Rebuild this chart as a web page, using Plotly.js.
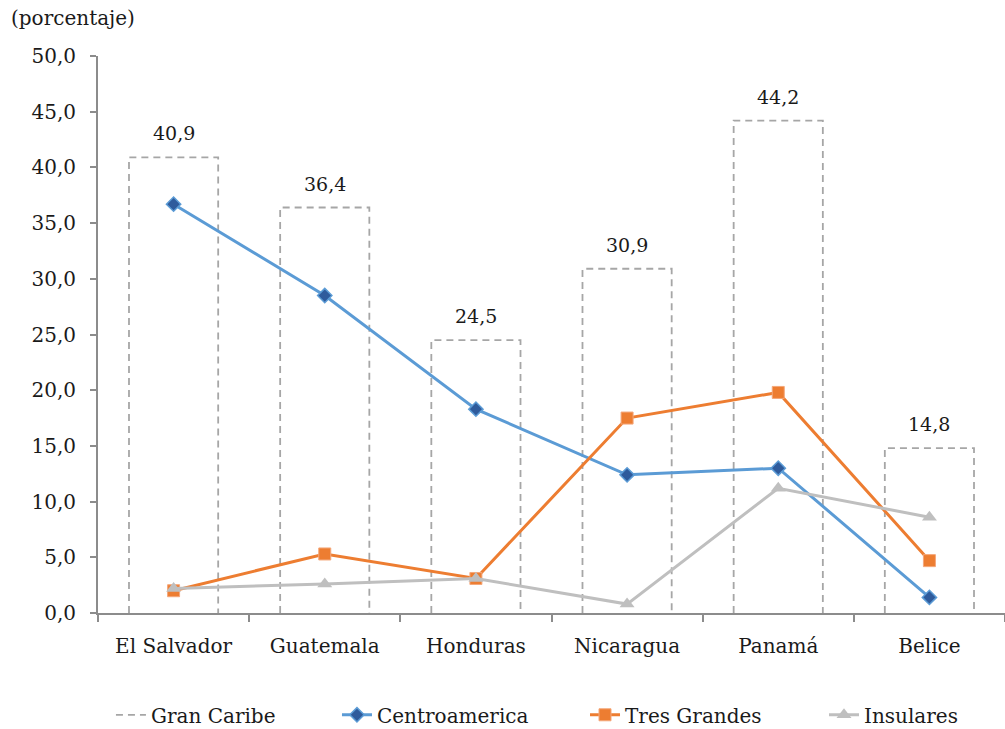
<!DOCTYPE html>
<html>
<head>
<meta charset="utf-8">
<script src="https://cdn.plot.ly/plotly-3.0.1.min.js"></script>
<style>
  html, body { margin: 0; padding: 0; background: #fff; }
  #chart { width: 1005px; height: 729px; }
</style>
</head>
<body>
<div id="chart"></div>
<script>
// Países
const paises = ['El Salvador', 'Guatemala', 'Honduras', 'Nicaragua', 'Panamá', 'Belice'];

// Participación por destino (porcentaje)
const granCaribe     = [40.9, 36.4, 24.5, 30.9, 44.2, 14.8];
const centroamerica  = [36.7, 28.5, 18.3, 12.4, 13.0, 1.4];
const tresGrandes    = [2.0, 5.3, 3.1, 17.5, 19.8, 4.7];
const insulares      = [2.2, 2.6, 3.1, 0.8, 11.2, 8.6];

// Eje vertical
const yTicks = [0, 5, 10, 15, 20, 25, 30, 35, 40, 45, 50];

const FONT = '"DejaVu Serif", "Liberation Serif", serif';
const AXIS_COLOR = '#8c8c8c';
const TEXT_COLOR = '#1a1a1a';
const idx = paises.map((_, i) => i);

// Gran Caribe: open dashed columns built as outline paths around each category
const HALF = 0.295;
const gcX = [], gcY = [];
granCaribe.forEach((v, i) => {
  gcX.push(i - HALF, i - HALF, i + HALF, i + HALF, null);
  gcY.push(0, v, v, 0, null);
});

const traces = [
  {
    type: 'scatter', mode: 'lines', name: 'Gran Caribe', legend: 'legend',
    x: gcX, y: gcY,
    line: { color: '#a6a6a6', width: 1.8, dash: '7px,5px' },
    hoverinfo: 'skip', cliponaxis: false
  },
  {
    type: 'scatter', mode: 'lines+markers', name: 'Centroamerica', legend: 'legend2',
    x: idx, y: centroamerica,
    line: { color: '#5b9bd5', width: 3 },
    marker: { symbol: 'diamond', size: 11, color: '#2f5b9c', line: { color: '#5b9bd5', width: 1.5 } },
    cliponaxis: false
  },
  {
    type: 'scatter', mode: 'lines+markers', name: 'Tres Grandes', legend: 'legend3',
    x: idx, y: tresGrandes,
    line: { color: '#ed7d31', width: 3 },
    marker: { symbol: 'square', size: 12, color: '#ed7d31', line: { color: '#f4a77a', width: 1 } },
    cliponaxis: false
  },
  {
    type: 'scatter', mode: 'lines+markers', name: 'Insulares', legend: 'legend4',
    x: idx, y: insulares,
    line: { color: '#bfbfbf', width: 3 },
    marker: { symbol: 'triangle-up', size: 13, color: '#bfbfbf' },
    cliponaxis: false
  }
];

const fmt = v => v.toFixed(1).replace('.', ',');

const annotations = granCaribe.map((v, i) => ({
  x: i, y: v, xref: 'x', yref: 'y',
  text: fmt(v), showarrow: false,
  yanchor: 'middle', yshift: 24,
  font: { family: FONT, size: 19, color: TEXT_COLOR }
}));

annotations.push({
  xref: 'paper', yref: 'paper', x: -0.098, y: 1.0, yshift: 38,
  xanchor: 'left', yanchor: 'middle',
  text: '(porcentaje)', showarrow: false,
  font: { family: FONT, size: 20, color: TEXT_COLOR }
});

const boundaries = [];
for (let i = 0; i <= paises.length; i++) boundaries.push(i - 0.5);

// one single-entry legend per series, laid out in a row under the axis
const legendBox = x => ({
  orientation: 'h', xref: 'container', yref: 'container',
  x: x, xanchor: 'left', y: 0.0195, yanchor: 'middle',
  font: { family: FONT, size: 20, color: TEXT_COLOR },
  bgcolor: 'rgba(0,0,0,0)'
});

const layout = {
  width: 1005, height: 729,
  margin: { l: 98, r: 0, t: 56, b: 116, autoexpand: false },
  paper_bgcolor: '#fff', plot_bgcolor: '#fff',
  separators: ',.',
  showlegend: true,
  font: { family: FONT, size: 20, color: TEXT_COLOR },
  xaxis: {
    type: 'linear', range: [-0.5, 5.5], fixedrange: true,
    tickmode: 'array', tickvals: idx, ticktext: paises,
    ticks: '', showgrid: false, zeroline: false,
    showline: true, linecolor: AXIS_COLOR, linewidth: 2,
    ticklabelstandoff: 14,
    tickfont: { family: FONT, size: 20, color: TEXT_COLOR },
    minor: { tickmode: 'array', tickvals: boundaries, ticks: 'outside', ticklen: 7, tickwidth: 2, tickcolor: AXIS_COLOR, showgrid: false }
  },
  yaxis: {
    range: [0, 50], fixedrange: true,
    tickmode: 'array', tickvals: yTicks, tickformat: '.1f',
    ticks: 'outside', ticklen: 6, tickwidth: 2, tickcolor: AXIS_COLOR,
    showgrid: false, zeroline: false,
    showline: true, linecolor: AXIS_COLOR, linewidth: 2,
    ticklabelstandoff: 10,
    tickfont: { family: FONT, size: 20, color: TEXT_COLOR }
  },
  legend: legendBox(0.1104),
  legend2: legendBox(0.3353),
  legend3: legendBox(0.5821),
  legend4: legendBox(0.8199),
  annotations: annotations
};

Plotly.newPlot('chart', traces, layout, { displayModeBar: false, staticPlot: true });
</script>
</body>
</html>
